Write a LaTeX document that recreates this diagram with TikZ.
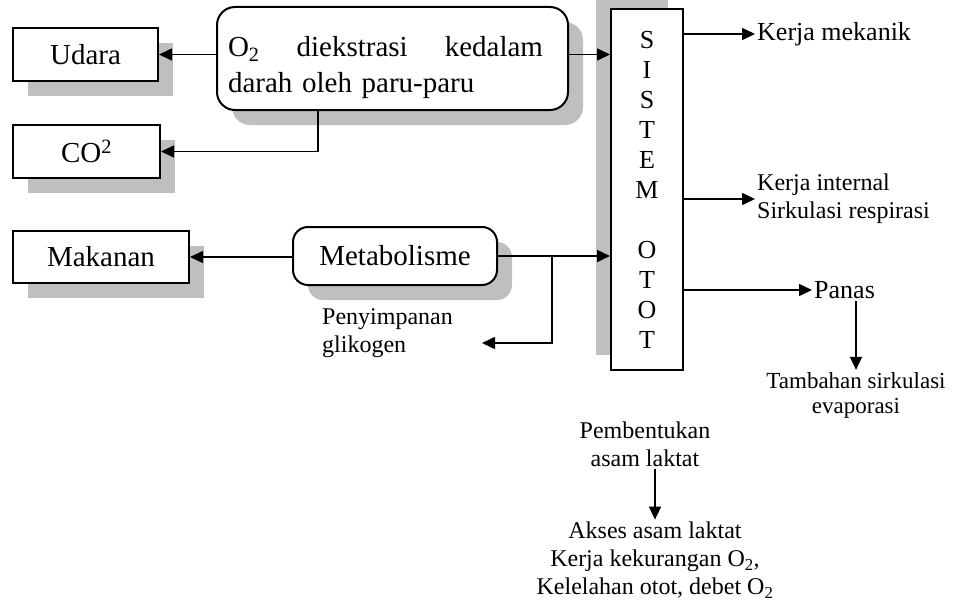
\documentclass[tikz,border=0pt]{standalone}
\usepackage{fontspec}
\setmainfont{Liberation Serif}
\usetikzlibrary{arrows.meta,shadows}

\begin{document}
\begin{tikzpicture}[x=1pt,y=-1pt,
		kotakdasar/.style={draw,line width=2pt,fill=white,minimum height=53pt,
			font=\fontsize{29}{36}\selectfont},
		bayang/.style={drop shadow={shadow xshift=15pt,shadow yshift=-15pt,fill=black!25,opacity=1}},
		kotak/.style={kotakdasar,bayang},
		bulat/.style={kotak,rounded corners=18pt},
		teks/.style={inner sep=2pt,font=\fontsize{24}{28}\selectfont},
		panah/.style={line width=1.6pt,-{Triangle[length=13pt,width=12pt]}}]
		\useasboundingbox (0,0) rectangle (953,602);
		% kotak kiri
		\node[kotak,minimum width=145pt] (udara) at (85.5,54.5) {Udara};
		\node[kotak,minimum width=147pt] (co2) at (86.5,151.5) {CO\textsuperscript{2}};
		\node[kotak,minimum width=176pt,minimum height=52pt] (makanan) at (101,257) {Makanan};
		% kotak tengah
		\node[bulat,minimum width=351pt,minimum height=103pt,text width=329pt,inner sep=0pt,align=left] (o2) at (392.5,58.5)
			{\rule{0pt}{38pt}\makebox[315pt]{O\textsubscript{2}\hfill diekstrasi\hfill kedalam}\\darah oleh paru-paru};
		\node[bulat,rounded corners=15pt,minimum width=204pt,minimum height=58pt] (meta) at (395,256) {Metabolisme};
		% sistem otot
		\node[kotakdasar,minimum width=72pt,minimum height=361pt,inner sep=0pt,align=center,
			font=\fontsize{26}{30}\selectfont,
			drop shadow={shadow xshift=-15pt,shadow yshift=15pt,fill=black!25,opacity=1}] (sistem) at (647,189.5)
			{S\\I\\S\\T\\E\\M\\[30pt]O\\T\\O\\T};
		% keterangan
		\node[teks,anchor=west,font=\fontsize{26}{30}\selectfont] (kmek) at (755,34) {Kerja mekanik};
		\node[teks,anchor=west,align=left] (kint) at (755,199) {Kerja internal\\Sirkulasi respirasi};
		\node[teks,anchor=west,font=\fontsize{26}{30}\selectfont] (panas) at (812,290) {Panas};
		\node[teks,align=center,font=\fontsize{23}{25}\selectfont] (tambah) at (856,395) {Tambahan sirkulasi\\evaporasi};
		\node[teks,anchor=west,align=left] (simpan) at (320,333) {Penyimpanan\\glikogen};
		\node[teks,align=center] (bentuk) at (645,444) {Pembentukan\\asam laktat};
		\node[teks,align=center] (akses) at (655,560)
			{Akses asam laktat\\Kerja kekurangan O\textsubscript{2},\\Kelelahan otot, debet O\textsubscript{2}};
		\coordinate (cabang) at (552,256);
		\coordinate (simpanujung) at (482,343);
		% panah
		\draw[panah] (udara.east -| o2.west) -- (udara.east);
		\draw[panah] ([xshift=-74.5pt]o2.south) |- (co2.east);
		\draw[panah] (udara.east -| o2.east) -- (udara.east -| sistem.west);
		\draw[panah] (makanan.east -| meta.west) -- (makanan.east);
		\draw[panah] (meta.east) -- (meta.east -| sistem.west);
		\draw[panah] (cabang) |- (simpanujung);
		\draw[panah] (kmek.west -| sistem.east) -- (kmek.west);
		\draw[panah] (kint.west -| sistem.east) -- (kint.west);
		\draw[panah] (panas.west -| sistem.east) -- (panas.west);
		\draw[panah] (panas.south -| tambah.north) -- (tambah.north);
		\draw[panah] (bentuk.south -| akses.north) -- (akses.north);
	\end{tikzpicture}
\end{document}
